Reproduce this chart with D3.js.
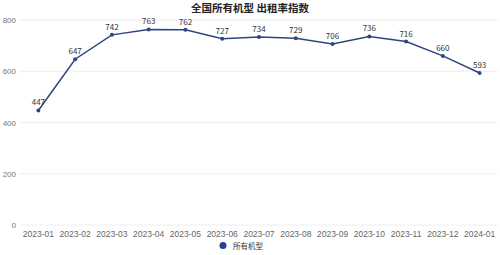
<!DOCTYPE html>
<html lang="zh">
<head>
<meta charset="UTF-8">
<title>全国所有机型 出租率指数</title>
<style>
  body { margin: 0; background: #fff; }
  svg { display: block; font-family: "Noto Sans CJK SC", "Noto Sans", sans-serif; }
  .grid line { stroke: #eeeeee; }
  .line { fill: none; stroke: #2f4580; stroke-width: 1.5px; }
</style>
</head>
<body>
<svg width="500" height="255"></svg>
<script src="https://d3js.org/d3.v7.min.js"></script>
<script>
var months = ["2023-01","2023-02","2023-03","2023-04","2023-05","2023-06","2023-07",
              "2023-08","2023-09","2023-10","2023-11","2023-12","2024-01"];
var values = [447, 647, 742, 763, 762, 727, 734, 729, 706, 736, 716, 660, 593];
var yTicks = [0, 200, 400, 600, 800];
var seriesName = "所有机型";
var title = "全国所有机型 出租率指数";

var svg = d3.select("svg"),
    margin = {top: 20, right: 2, bottom: 30, left: 20},
    width = +svg.attr("width") - margin.left - margin.right,
    height = +svg.attr("height") - margin.top - margin.bottom,
    g = svg.append("g").attr("transform", "translate(" + margin.left + "," + margin.top + ")");

var x = d3.scaleBand().domain(months).range([0, width]);
var y = d3.scaleLinear().domain([0, 800]).range([height, 0]);

// gridlines
g.append("g").attr("class", "grid")
  .selectAll("line").data(yTicks).enter().append("line")
    .attr("x1", 0).attr("x2", width)
    .attr("y1", function(d) { return y(d); })
    .attr("y2", function(d) { return y(d); });

// y axis labels
g.append("g")
  .call(d3.axisLeft(y).tickValues(yTicks).tickSize(0).tickPadding(4))
  .call(function(a) { a.select(".domain").remove(); })
  .selectAll("text").attr("fill", "#777").attr("font-size", 8);

// x axis labels
g.append("g")
  .attr("transform", "translate(0," + height + ")")
  .call(d3.axisBottom(x).tickSize(0).tickPadding(6))
  .call(function(a) { a.select(".domain").remove(); })
  .selectAll("text").attr("fill", "#666").attr("font-size", 8.5);

var cx = function(d, i) { return x(months[i]) + x.bandwidth() / 2; };

var line = d3.line()
  .x(cx)
  .y(function(d) { return y(d); });

g.append("path").datum(values).attr("class", "line").attr("d", line);

g.selectAll(".dot").data(values).enter().append("circle")
  .attr("class", "dot")
  .attr("cx", cx)
  .attr("cy", function(d) { return y(d); })
  .attr("r", 2)
  .attr("fill", "#2f4580");

g.selectAll(".lbl").data(values).enter().append("text")
  .attr("class", "lbl")
  .attr("x", cx)
  .attr("y", function(d) { return y(d) - 5; })
  .attr("text-anchor", "middle")
  .attr("font-size", 8)
  .attr("fill", "#333")
  .text(function(d) { return d; });

// title
svg.append("text")
  .attr("x", 250).attr("y", 12)
  .attr("text-anchor", "middle")
  .attr("font-size", 10.5)
  .attr("font-weight", "bold")
  .attr("fill", "#222")
  .text(title);

// legend
var lg = svg.append("g").attr("transform", "translate(223,245.5)");
lg.append("circle").attr("r", 3.5).attr("fill", "#2a3f9a");
lg.append("text").attr("x", 10).attr("y", 3).attr("font-size", 7.5).attr("fill", "#333").text(seriesName);
</script>
</body>
</html>
